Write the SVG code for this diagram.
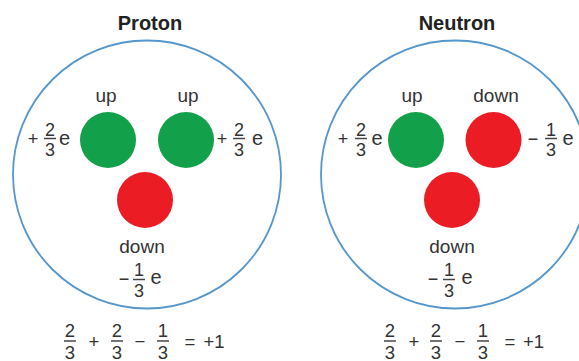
<svg xmlns="http://www.w3.org/2000/svg" width="579" height="361" viewBox="0 0 579 361">
<style>
text{font-family:"Liberation Sans",Arial,sans-serif;fill:#333;text-anchor:middle}
.title{font-size:20px;font-weight:bold;fill:#222}
.lbl{font-size:19px}
.d{font-size:18px}
.e{font-size:20px}
.op{font-size:18px}
.eq{font-size:18.5px}
.shell{fill:#fff;stroke:#5596cc;stroke-width:1.8}
.bar{stroke:#444;stroke-width:1.5}
.up{fill:#12a04b}
.dn{fill:#ec1c24}
</style>
<rect width="579" height="361" fill="#fff"/>
<g id="proton">
<text class="title" x="150" y="30">Proton</text>
<circle class="shell" cx="147" cy="174.5" r="134"/>
<g id="p-up1">
<circle class="up" cx="108" cy="140" r="28"/>
<text class="lbl" x="106" y="101.5">up</text>
<text class="op" x="33" y="145">+</text>
<text class="d" x="50" y="135.5">2</text><line class="bar" x1="44" y1="138.5" x2="56" y2="138.5"/><text class="d" x="50" y="156">3</text>
<text class="e" x="64.5" y="145">e</text>
</g>
<g id="p-up2">
<circle class="up" cx="186" cy="140" r="28"/>
<text class="lbl" x="188" y="101.5">up</text>
<text class="op" x="222" y="145">+</text>
<text class="d" x="239" y="135.5">2</text><line class="bar" x1="233" y1="138.5" x2="245" y2="138.5"/><text class="d" x="239" y="156">3</text>
<text class="e" x="257.5" y="145">e</text>
</g>
<g id="p-down">
<circle class="dn" cx="145" cy="200" r="28"/>
<text class="lbl" x="142" y="253">down</text>
<text class="op" x="124" y="285">−</text>
<text class="d" x="139" y="276">1</text><line class="bar" x1="133" y1="279.5" x2="145" y2="279.5"/><text class="d" x="139" y="296.5">3</text>
<text class="e" x="156" y="284">e</text>
</g>
<g id="p-eq">
<text class="eq" x="70" y="337">2</text><line class="bar" x1="64" y1="341" x2="76" y2="341"/><text class="eq" x="70" y="358.5">3</text>
<text class="eq" x="94" y="347.5">+</text>
<text class="eq" x="117" y="337">2</text><line class="bar" x1="111" y1="341" x2="123" y2="341"/><text class="eq" x="117" y="358.5">3</text>
<text class="eq" x="140" y="347.5">−</text>
<text class="eq" x="163" y="337">1</text><line class="bar" x1="157" y1="341" x2="169" y2="341"/><text class="eq" x="163" y="358.5">3</text>
<text class="eq" x="190" y="347.5">=</text>
<text class="eq" x="214" y="347.5">+1</text>
</g>
</g>
<g id="neutron">
<text class="title" x="457" y="30">Neutron</text>
<circle class="shell" cx="455" cy="174.5" r="134"/>
<g id="n-up">
<circle class="up" cx="416" cy="140" r="28"/>
<text class="lbl" x="412" y="101.5">up</text>
<text class="op" x="343" y="145">+</text>
<text class="d" x="361" y="135.5">2</text><line class="bar" x1="355" y1="138.5" x2="367" y2="138.5"/><text class="d" x="361" y="156">3</text>
<text class="e" x="377" y="145">e</text>
</g>
<g id="n-down1">
<circle class="dn" cx="493.5" cy="140" r="28"/>
<text class="lbl" x="496" y="101.5">down</text>
<text class="op" x="533" y="145">−</text>
<text class="d" x="551" y="135.5">1</text><line class="bar" x1="545" y1="138.5" x2="557" y2="138.5"/><text class="d" x="551" y="156">3</text>
<text class="e" x="568" y="145">e</text>
</g>
<g id="n-down2">
<circle class="dn" cx="452" cy="200" r="28"/>
<text class="lbl" x="452" y="253">down</text>
<text class="op" x="433" y="285">−</text>
<text class="d" x="449" y="276">1</text><line class="bar" x1="443" y1="279.5" x2="455" y2="279.5"/><text class="d" x="449" y="296.5">3</text>
<text class="e" x="467" y="284">e</text>
</g>
<g id="n-eq">
<text class="eq" x="390" y="337">2</text><line class="bar" x1="384" y1="341" x2="396" y2="341"/><text class="eq" x="390" y="358.5">3</text>
<text class="eq" x="414" y="347.5">+</text>
<text class="eq" x="436" y="337">2</text><line class="bar" x1="430" y1="341" x2="442" y2="341"/><text class="eq" x="436" y="358.5">3</text>
<text class="eq" x="460" y="347.5">−</text>
<text class="eq" x="483" y="337">1</text><line class="bar" x1="477" y1="341" x2="489" y2="341"/><text class="eq" x="483" y="358.5">3</text>
<text class="eq" x="510" y="347.5">=</text>
<text class="eq" x="533.5" y="347.5">+1</text>
</g>
</g>
<g id="connectors"/>
</svg>
